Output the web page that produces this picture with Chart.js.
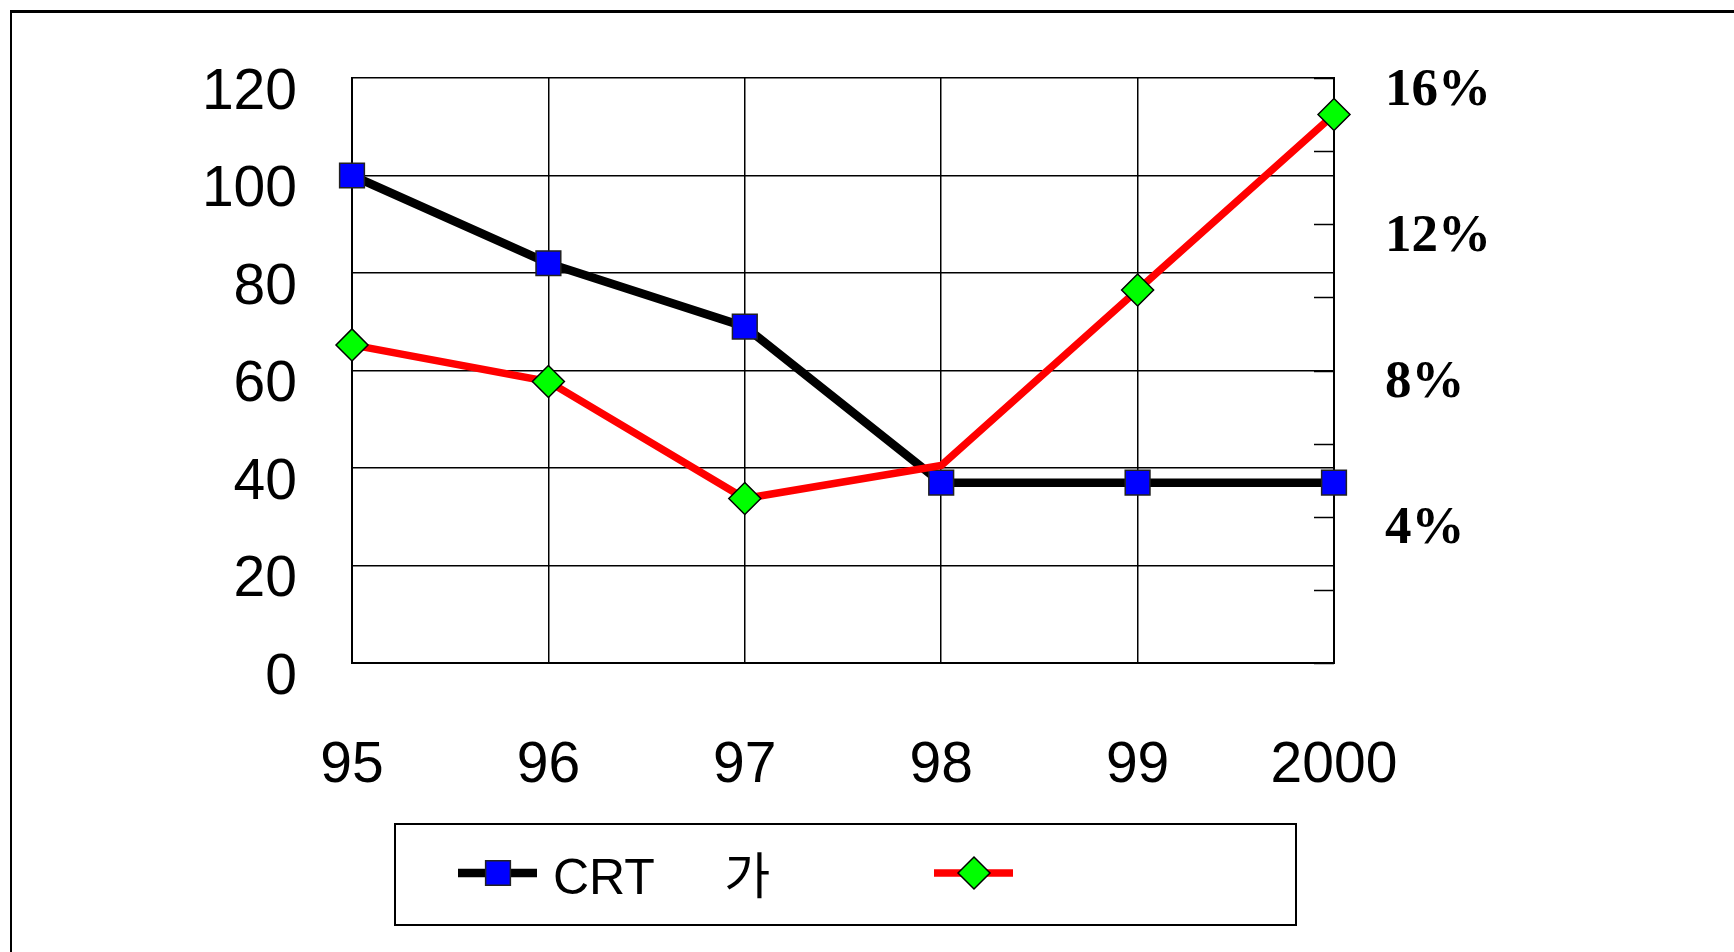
<!DOCTYPE html>
<html>
<head>
<meta charset="utf-8">
<title>CRT chart</title>
<script src="https://cdn.jsdelivr.net/npm/chart.js@4.4.1/dist/chart.umd.min.js"></script>
<style>
    html, body { margin: 0; padding: 0; background: #fff; overflow: hidden; }
    #wrap { position: relative; width: 1734px; height: 952px; }
    #frame { position: absolute; left: 10px; top: 10px; width: 1800px; height: 1000px;
             border-top: 3px solid #000; border-left: 2px solid #000; }
    #chart { position: absolute; left: 0; top: 0; }
</style>
</head>
<body>
<div id="wrap">
    <div id="frame"></div>
    <canvas id="chart" width="1734" height="952"></canvas>
</div>
<script>
// data
const years = ["95", "96", "97", "98", "99", "2000"];
const crtValues = [100, 82, 69, 37, 37, 37];
const rateValues = [8.7, 7.7, 4.5, 5.4, 10.2, 15.0];
const seriesLabels = ["CRT     가", ""];
const leftTickValues = [0, 20, 40, 60, 80, 100, 120];
const rightTickValues = [0, 2, 4, 6, 8, 10, 12, 14, 16];
const rightLabelValues = [4, 8, 12, 16];

const sansFont = "'Liberation Sans', Arial, 'Noto Sans CJK KR', sans-serif";
const serifFont = "'Liberation Serif', 'Times New Roman', serif";

// keep the plot box where the axes put it, not pushed by label overflow
function noPadding(scale) {
    scale.paddingTop = 0;
    scale.paddingBottom = 0;
    scale.paddingLeft = 0;
    scale.paddingRight = 0;
}

// inward ticks on the right axis + boxed legend under the plot
const extras = {
    id: "extras",
    beforeDatasetsDraw(chart) {
        const ctx = chart.ctx;
        const y1 = chart.scales.y1;
        ctx.save();
        ctx.strokeStyle = "#000";
        ctx.lineWidth = 1.5;
        y1.ticks.forEach(t => {
            const py = Math.round(y1.getPixelForValue(t.value)) + 0.5;
            ctx.beginPath();
            ctx.moveTo(y1.left - 20, py);
            ctx.lineTo(y1.left, py);
            ctx.stroke();
        });
        ctx.restore();
    },
    afterDraw(chart) {
        const ctx = chart.ctx;
        ctx.save();
        ctx.strokeStyle = "#000";
        ctx.lineWidth = 2;
        ctx.strokeRect(395, 824, 901, 101);

        const slots = [{ x: 458, textX: 553 }, { x: 934, textX: 1030 }];
        const cy = 873;
        chart.data.datasets.forEach((ds, i) => {
            const s = slots[i];
            ctx.strokeStyle = ds.borderColor;
            ctx.lineWidth = ds.borderWidth;
            ctx.beginPath();
            ctx.moveTo(s.x, cy);
            ctx.lineTo(s.x + 79, cy);
            ctx.stroke();

            ctx.fillStyle = ds.pointBackgroundColor;
            ctx.strokeStyle = ds.pointBorderColor;
            ctx.lineWidth = ds.pointBorderWidth;
            Chart.helpers.drawPoint(ctx, {
                pointStyle: ds.pointStyle,
                radius: ds.legendRadius,
                rotation: 0,
                borderWidth: ds.pointBorderWidth
            }, s.x + 40, cy);

            ctx.fillStyle = "#000";
            ctx.font = "50px " + sansFont;
            ctx.textBaseline = "middle";
            ctx.textAlign = "left";
            ctx.fillText(ds.label, s.textX, cy + 7);
        });
        ctx.restore();
    }
};

Chart.defaults.color = "#000";

new Chart(document.getElementById("chart"), {
    type: "line",
    data: {
        labels: years,
        datasets: [
            {
                label: seriesLabels[0],
                data: crtValues,
                yAxisID: "y",
                borderColor: "#000",
                borderWidth: 8.5,
                tension: 0,
                pointStyle: "rect",
                pointRadius: 17.5,
                legendRadius: 17.5,
                pointBackgroundColor: "#0000ff",
                pointBorderColor: "#222",
                pointBorderWidth: 1.5,
                clip: false,
                order: 1
            },
            {
                label: seriesLabels[1],
                data: rateValues,
                yAxisID: "y1",
                borderColor: "#ff0000",
                borderWidth: 7.5,
                tension: 0,
                pointStyle: "rectRot",
                pointRadius: [16, 16, 16, 0, 16, 16],
                legendRadius: 16,
                pointBackgroundColor: "#00ff00",
                pointBorderColor: "#000",
                pointBorderWidth: 1.5,
                clip: false,
                order: 0
            }
        ]
    },
    options: {
        responsive: false,
        animation: false,
        events: [],
        layout: { padding: { top: 78, left: 0, right: 0, bottom: 0 } },
        plugins: {
            legend: { display: false },
            tooltip: { enabled: false }
        },
        scales: {
            x: {
                type: "category",
                offset: false,
                grid: { color: "#000", lineWidth: 1.5, drawTicks: false },
                border: { color: "#000", width: 2 },
                ticks: {
                    font: { family: sansFont, size: 57 },
                    color: "#000",
                    padding: 69,
                    maxRotation: 0,
                    autoSkip: false
                },
                afterFit(scale) { scale.height = 289; noPadding(scale); }
            },
            y: {
                position: "left",
                min: 0,
                max: 120,
                afterBuildTicks(scale) {
                    scale.ticks = leftTickValues.map(v => ({ value: v }));
                },
                grid: { color: "#000", lineWidth: 1.5, drawTicks: false },
                border: { color: "#000", width: 2 },
                ticks: {
                    font: { family: sansFont, size: 57 },
                    color: "#000",
                    padding: 55,
                    labelOffset: 15
                },
                afterFit(scale) { scale.width = 352; noPadding(scale); }
            },
            y1: {
                position: "right",
                min: 0,
                max: 16,
                afterBuildTicks(scale) {
                    scale.ticks = rightTickValues.map(v => ({ value: v }));
                },
                grid: { drawOnChartArea: false, drawTicks: false },
                border: { color: "#000", width: 2 },
                ticks: {
                    font: { family: serifFont, size: 53, weight: "bold" },
                    color: "#000",
                    padding: 51,
                    labelOffset: 13,
                    callback: v => rightLabelValues.includes(v) ? v + "%" : ""
                },
                afterFit(scale) { scale.width = 400; noPadding(scale); }
            }
        }
    },
    plugins: [extras]
});
</script>
</body>
</html>
